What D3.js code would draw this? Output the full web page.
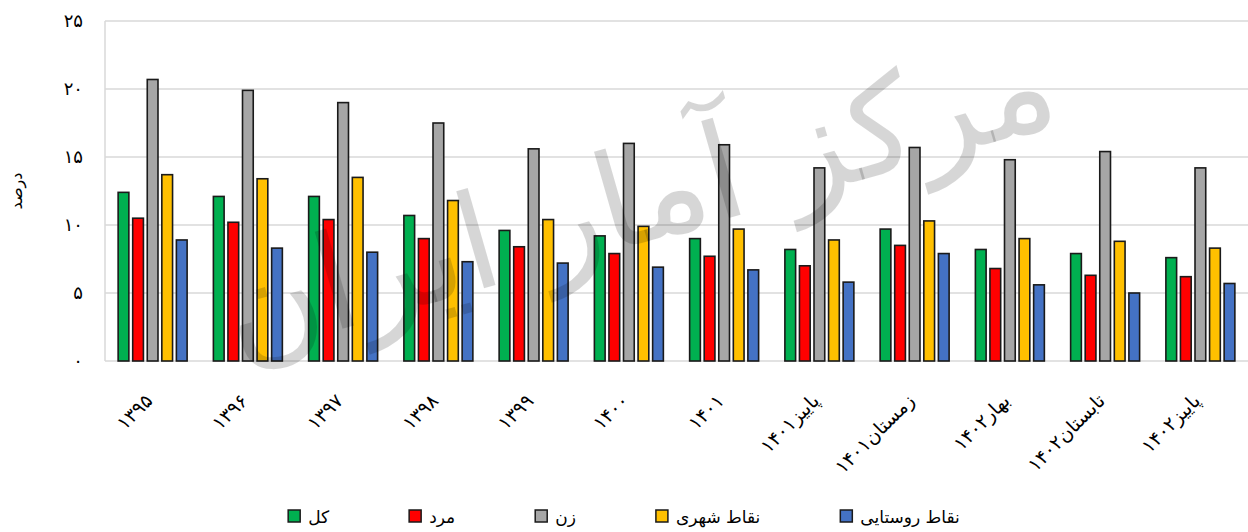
<!DOCTYPE html>
<html>
<head>
<meta charset="utf-8">
<script src="https://cdn.jsdelivr.net/npm/d3@7"></script>
<style>
  html, body { margin: 0; padding: 0; background: #fff; }
  svg { display: block; font-family: "DejaVu Sans", sans-serif; }
</style>
</head>
<body>
<svg id="chart" width="1248" height="532"></svg>
<script>
// ---- data ----
const categories = ["۱۳۹۵","۱۳۹۶","۱۳۹۷","۱۳۹۸","۱۳۹۹","۱۴۰۰","۱۴۰۱","پاییز۱۴۰۱","زمستان۱۴۰۱","بهار۱۴۰۲","تابستان۱۴۰۲","پاییز۱۴۰۲"];
const seriesNames = ["کل","مرد","زن","نقاط شهری","نقاط روستایی"];
const total   = [12.4, 12.1, 12.1, 10.7, 9.6, 9.2, 9.0, 8.2, 9.7, 8.2, 7.9, 7.6];
const male    = [10.5, 10.2, 10.4, 9.0, 8.4, 7.9, 7.7, 7.0, 8.5, 6.8, 6.3, 6.2];
const female  = [20.7, 19.9, 19.0, 17.5, 15.6, 16.0, 15.9, 14.2, 15.7, 14.8, 15.4, 14.2];
const urban   = [13.7, 13.4, 13.5, 11.8, 10.4, 9.9, 9.7, 8.9, 10.3, 9.0, 8.8, 8.3];
const rural   = [8.9, 8.3, 8.0, 7.3, 7.2, 6.9, 6.7, 5.8, 7.9, 5.6, 5.0, 5.7];
const yTicks  = [0, 5, 10, 15, 20, 25];
const yTitle  = "درصد";
const watermark = "مرکز آمار ایران";

const series = [total, male, female, urban, rural];
const colors = ["#00B050", "#FF0000", "#A6A6A6", "#FFC000", "#4472C4"];

const toFa = n => String(n).replace(/\d/g, d => "۰۱۲۳۴۵۶۷۸۹"[d]);

// ---- layout ----
const svg = d3.select("#chart");
const plotLeft = 105, plotRight = 1248, plotTop = 21, plotBottom = 361;

const x0 = d3.scaleBand().domain(categories).range([plotLeft, plotRight])
  .paddingInner(0.26).paddingOuter(0.13);
const x1 = d3.scaleBand().domain(d3.range(series.length)).range([0, x0.bandwidth()])
  .paddingInner(0.16).paddingOuter(0);
const y = d3.scaleLinear().domain([0, 25]).range([plotBottom, plotTop]);

// gridlines
const grid = svg.append("g");
grid.selectAll("line").data(yTicks).join("line")
  .attr("x1", plotLeft).attr("x2", plotRight)
  .attr("y1", d => y(d)).attr("y2", d => y(d))
  .attr("stroke", "#d9d9d9").attr("stroke-width", 1.5);
grid.append("line")
  .attr("x1", plotLeft).attr("x2", plotLeft).attr("y1", y(25)).attr("y2", y(0))
  .attr("stroke", "#d9d9d9").attr("stroke-width", 1.5);

// y axis labels
const yAxis = d3.axisLeft(y).tickValues(yTicks).tickFormat(toFa).tickSize(0).tickPadding(0);
const ya = svg.append("g").attr("transform", `translate(83,0)`).call(yAxis);
ya.select(".domain").remove();
ya.selectAll("text").attr("font-size", 18).attr("fill", "#000")
  .attr("font-family", "DejaVu Sans");

// y title
svg.append("text").attr("transform", "translate(22,191) rotate(-90)")
  .attr("text-anchor", "middle").attr("font-size", 16).attr("fill", "#000")
  .text(yTitle);

// bars
const groups = svg.append("g").selectAll("g").data(categories).join("g")
  .attr("transform", d => `translate(${x0(d)},0)`);
groups.selectAll("rect").data((d, i) => series.map((s, k) => ({k, v: s[i]}))).join("rect")
  .attr("x", d => x1(d.k) + 0.75)
  .attr("width", x1.bandwidth() - 1.5)
  .attr("y", d => y(d.v))
  .attr("height", d => y(0) - y(d.v))
  .attr("fill", d => colors[d.k])
  .attr("stroke", "#1a1a1a").attr("stroke-width", 1.6);

// x axis labels
const xAxis = d3.axisBottom(x0).tickSize(0).tickPadding(0);
const xa = svg.append("g").attr("transform", `translate(0,${plotBottom})`).call(xAxis);
xa.select(".domain").remove();
xa.selectAll(".tick text")
  .attr("font-size", 19).attr("fill", "#000").attr("font-family", "DejaVu Sans")
  .attr("text-anchor", "end").attr("dy", 0).attr("y", 0)
  .attr("transform", "translate(1,41) rotate(-45)");

// watermark (fit inside the drawing area)
const wm = svg.append("text")
  .attr("font-size", 200)
  .attr("fill", "#000").attr("fill-opacity", 0.16)
  .attr("text-anchor", "middle")
  .text(watermark);
const wlen = wm.node().getComputedTextLength();
wm.attr("font-size", 200 * 860 / wlen);
let wcx = 650, wcy = 200;
wm.attr("transform", `translate(${wcx},${wcy}) rotate(-16)`);
const r = wm.node().getBoundingClientRect();
if (r.top < 2) {
  wcy += 2 - r.top;
  wm.attr("transform", `translate(${wcx},${wcy}) rotate(-16)`);
}

// legend
const leg = svg.append("g");
let lx = 0;
seriesNames.forEach((name, k) => {
  const g = leg.append("g").attr("transform", `translate(${lx},0)`);
  g.append("rect").attr("x", 0).attr("y", 510).attr("width", 12).attr("height", 12)
    .attr("fill", colors[k]).attr("stroke", "#1a1a1a").attr("stroke-width", 1.5);
  const t = g.append("text").attr("x", 20).attr("y", 523).attr("font-size", 17)
    .attr("fill", "#000").text(name);
  const w = t.node().getComputedTextLength();
  lx += 20 + w + 80;
});
const legW = lx - 80;
leg.attr("transform", `translate(${624 - legW / 2},0)`);
</script>
</body>
</html>
